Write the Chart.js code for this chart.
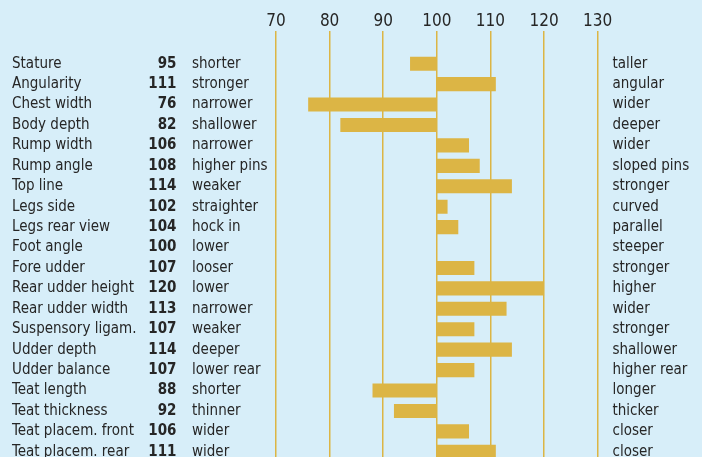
<!DOCTYPE html>
<html>
<head>
<meta charset="utf-8">
<script src="https://cdn.jsdelivr.net/npm/chart.js@4/dist/chart.umd.min.js"></script>
<style>
  html, body { margin: 0; padding: 0; background: #d7eef9; overflow: hidden; }
  #wrap { width: 702px; height: 462px; position: relative; }
</style>
</head>
<body>
<div id="wrap"><canvas id="traits"></canvas></div>
<script>
// linear type traits, breeding values around the average of 100
const traits = ['Stature', 'Angularity', 'Chest width', 'Body depth', 'Rump width', 'Rump angle',
  'Top line', 'Legs side', 'Legs rear view', 'Foot angle', 'Fore udder', 'Rear udder height',
  'Rear udder width', 'Suspensory ligam.', 'Udder depth', 'Udder balance', 'Teat length',
  'Teat thickness', 'Teat placem. front', 'Teat placem. rear'];
const values = [95, 111, 76, 82, 106, 108, 114, 102, 104, 100, 107, 120, 113, 107, 114, 107, 88, 92, 106, 111];
const lowLabels = ['shorter', 'stronger', 'narrower', 'shallower', 'narrower', 'higher pins',
  'weaker', 'straighter', 'hock in', 'lower', 'looser', 'lower', 'narrower', 'weaker', 'deeper',
  'lower rear', 'shorter', 'thinner', 'wider', 'wider'];
const highLabels = ['taller', 'angular', 'wider', 'deeper', 'wider', 'sloped pins', 'stronger',
  'curved', 'parallel', 'steeper', 'stronger', 'higher', 'wider', 'stronger', 'shallower',
  'higher rear', 'longer', 'thicker', 'closer', 'closer'];
const axisTicks = [70, 80, 90, 100, 110, 120, 130];

const BASE = 100;
const FONT = "'Liberation Sans Narrow', 'DejaVu Sans Condensed', sans-serif";
const TEXT = '#262626';
const GOLD = '#dcb545';

// text columns on both sides of the bars, placed on the category scale
const sideColumns = {
  id: 'sideColumns',
  afterDraw(chart) {
    const ctx = chart.ctx;
    const y = chart.scales.y;
    ctx.save();
    ctx.fillStyle = TEXT;
    ctx.textBaseline = 'middle';
    traits.forEach((name, i) => {
      const py = y.getPixelForValue(i);
      ctx.font = '15px ' + FONT;
      ctx.textAlign = 'left';
      ctx.fillText(name, 12, py);
      ctx.fillText(lowLabels[i], 192, py);
      ctx.fillText(highLabels[i], 612.5, py);
      ctx.font = 'bold 15px ' + FONT;
      ctx.textAlign = 'right';
      ctx.fillText(String(values[i]), 176.5, py);
    });
    ctx.restore();
  }
};

new Chart(document.getElementById('traits'), {
  type: 'bar',
  data: {
    labels: traits,
    datasets: [{
      data: values.map(v => [BASE, v]),
      backgroundColor: GOLD,
      borderWidth: 0,
      barPercentage: 0.69,
      categoryPercentage: 1
    }]
  },
  options: {
    indexAxis: 'y',
    responsive: true,
    maintainAspectRatio: false,
    animation: false,
    layout: { padding: { left: 276, right: 104.3, top: 0, bottom: 0 } },
    plugins: { legend: { display: false }, tooltip: { enabled: false } },
    scales: {
      x: {
        position: 'top',
        min: 70,
        max: 130,
        afterBuildTicks(scale) {
          scale.ticks = axisTicks.map(v => ({ value: v }));
        },
        afterFit(scale) { scale.height = 53.5; },
        border: { display: false },
        grid: {
          color: GOLD,
          lineWidth: 1.5,
          drawTicks: true,
          tickLength: 22.5,
          tickColor: GOLD
        },
        ticks: {
          color: TEXT,
          padding: -1,
          font: { family: FONT, size: 17 }
        }
      },
      y: {
        display: false
      }
    }
  },
  plugins: [sideColumns]
});
</script>
</body>
</html>
